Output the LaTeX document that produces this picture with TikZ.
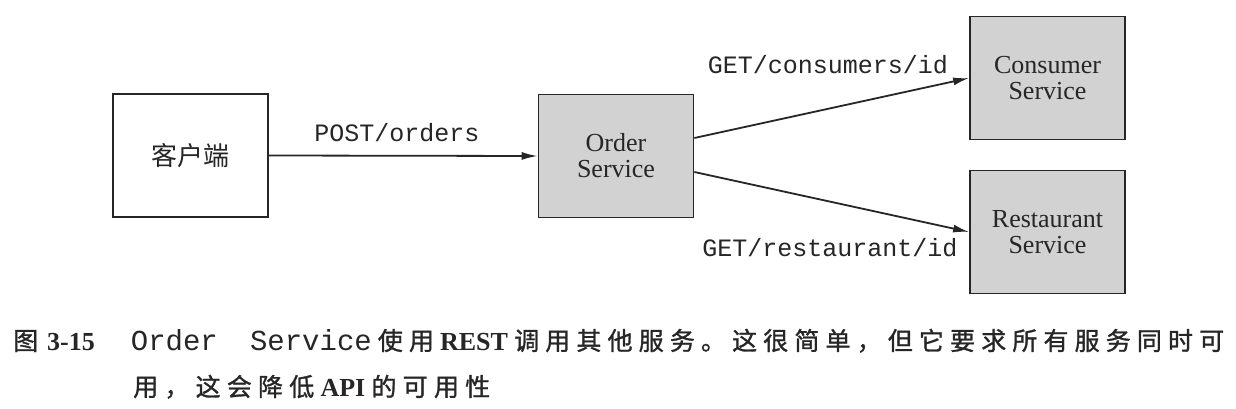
\documentclass[tikz,border=0pt]{standalone}
\usepackage{fontspec}
\setmainfont{Liberation Serif}
\newfontfamily\cjkfont{Noto Sans CJK SC}
\newfontfamily\cjkcapfont[FakeBold=1.2]{Noto Sans CJK SC}
\newfontfamily\monofont{Liberation Mono}
\usetikzlibrary{arrows.meta}
\definecolor{ink}{HTML}{262626}
\definecolor{boxgray}{HTML}{D2D2D2}
\newcommand{\capc}{\cjkcapfont\mdseries\fontsize{25}{28}\selectfont}
\newcommand{\capr}{\rmfamily\bfseries\fontsize{26}{28}\selectfont}
\newcommand{\capm}{\monofont\mdseries\fontsize{29}{30}\selectfont}
\tikzset{
  plainbox/.style={draw=ink, line width=1.7pt, minimum width=155pt, minimum height=123pt, inner sep=0pt, text=ink},
  svcbox/.style={plainbox, fill=boxgray, align=center, font=\fontsize{26}{26}\selectfont},
  msg/.style={text=ink, font=\monofont\fontsize{25}{25}\selectfont, inner sep=0pt},
  call/.style={draw=ink, line width=1.8pt, -{Latex[length=16pt,width=8pt]}},
  captionline/.style={text=ink, inner sep=0pt, anchor=base west}
}
\begin{document}
\begin{tikzpicture}[x=1pt,y=-1pt]
\useasboundingbox[fill=white] (0,0) rectangle (1236,409);

\node[plainbox, font=\cjkfont\fontsize{26}{26}\selectfont] (client) at (190.5,155.5) {客户端};
\node[svcbox] (order) at (616,156) {Order\\Service};
\node[svcbox] (consumer) at (1047.5,78) {Consumer\\Service};
\node[svcbox] (restaurant) at (1047.5,232) {Restaurant\\Service};

\draw[call] (client.east) -- (order.west);
\draw[call] ([yshift=18pt]order.east) -- (consumer.west);
\draw[call] ([yshift=-16pt]order.east) -- (restaurant.west);

\node[msg] (lpost) at (397,133) {POST/orders};
\node[msg] (lcons) at (828,65) {GET/consumers/id};
\node[msg] (lrest) at (830,248) {GET/restaurant/id};

\node[captionline] (cap1) at (13,350) {\hbox to 1211pt{\capc 图\hskip 9pt\capr 3-15\hskip 36pt\hbox to 241pt{\capm Order\hfil Service}\hskip 6pt\capc 使\hfil 用\hfil\capr REST\hfil\capc 调\hfil 用\hfil 其\hfil 他\hfil 服\hfil 务\hfil 。\hfil 这\hfil 很\hfil 简\hfil 单\hfil ，\hfil 但\hfil 它\hfil 要\hfil 求\hfil 所\hfil 有\hfil 服\hfil 务\hfil 同\hfil 时\hfil 可}};
\node[captionline] (cap2) at (133,396) {\hbox to 357pt{\capc 用\hfil ，\hfil 这\hfil 会\hfil 降\hfil 低\hfil\capr API\hfil\capc 的\hfil 可\hfil 用\hfil 性}};
\end{tikzpicture}
\end{document}
